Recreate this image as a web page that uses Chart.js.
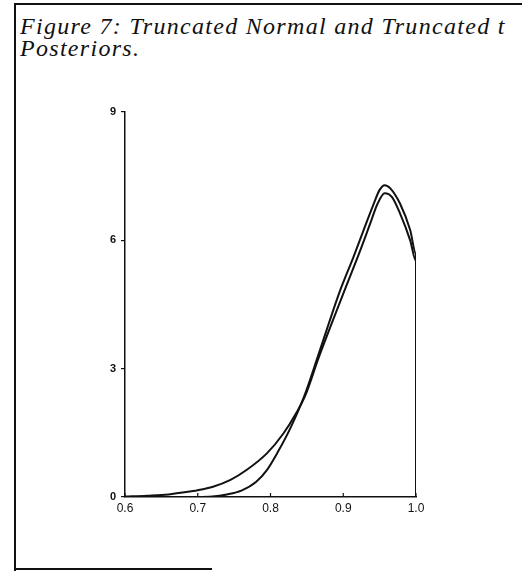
<!DOCTYPE html>
<html>
<head>
<meta charset="utf-8">
<script src="https://cdn.jsdelivr.net/npm/chart.js@4"></script>
<style>
    html, body { margin: 0; padding: 0; background: #fff; }
    #wrap { position: relative; width: 522px; height: 574px; overflow: hidden; }
    #frame { position: absolute; left: 14px; top: 3px; width: 520px; height: 566px;
             border-left: 2px solid #111; border-top: 2px solid #111; }
    #frameBottom { position: absolute; left: 14px; top: 568px; width: 198px; height: 2px; background: #111; }
    #title { position: absolute; left: 20px; top: 15px; margin: 0;
             font-family: "Liberation Serif", "Times New Roman", serif; font-style: italic;
             font-weight: normal; font-size: 24px; line-height: 22px; color: #111; letter-spacing: 1.3px; }
    canvas { position: absolute; left: 0; top: 0; }
</style>
</head>
<body>
<div id="wrap">
    <div id="frame"></div>
    <div id="frameBottom"></div>
    <h1 id="title">Figure 7: Truncated Normal and Truncated t<br>Posteriors.</h1>
    <canvas id="chart" width="522" height="574"></canvas>
</div>
<script>
// --- Data ---
const xNormal = [0.60, 0.70, 0.72, 0.74, 0.76, 0.78, 0.795, 0.81, 0.827, 0.846, 0.865, 0.880, 0.896, 0.914, 0.928, 0.942, 0.950, 0.957, 0.965, 0.978, 0.992, 1.00, 1.00];
const yNormal = [0.00, 0.00, 0.01, 0.06, 0.15, 0.35, 0.63, 1.05, 1.60, 2.34, 3.28, 4.05, 4.84, 5.61, 6.24, 6.86, 7.18, 7.29, 7.21, 6.86, 6.24, 5.68, 0];

const xT = [0.60, 0.63, 0.66, 0.676, 0.70, 0.721, 0.745, 0.767, 0.795, 0.818, 0.835, 0.848, 0.865, 0.886, 0.905, 0.921, 0.937, 0.947, 0.957, 0.967, 0.978, 0.992, 1.00, 1.00];
const yT = [0.01, 0.03, 0.06, 0.10, 0.16, 0.24, 0.40, 0.63, 1.02, 1.49, 1.95, 2.38, 3.20, 4.14, 4.97, 5.66, 6.39, 6.85, 7.10, 7.01, 6.63, 6.00, 5.52, 0];

const xTicks = [0.6, 0.7, 0.8, 0.9, 1.0];
const yTicks = [0, 3, 6, 9];

// --- Helpers ---
const toPoints = (xs, ys) => xs.map((x, i) => ({ x: x, y: ys[i] }));

// inward (upward) tick marks on the x axis
const innerTicks = {
    id: 'innerTicks',
    afterDraw(chart) {
        const { ctx, scales: { x, y } } = chart;
        ctx.save();
        ctx.strokeStyle = '#111';
        ctx.lineWidth = 1.2;
        xTicks.forEach(v => {
            const px = x.getPixelForValue(v);
            ctx.beginPath();
            ctx.moveTo(px, y.bottom);
            ctx.lineTo(px, y.bottom - 4);
            ctx.stroke();
        });
        ctx.restore();
    }
};

new Chart(document.getElementById('chart'), {
    type: 'line',
    data: {
        datasets: [
            { label: 'Truncated Normal', data: toPoints(xNormal, yNormal), borderColor: '#111', borderWidth: 2, pointRadius: 0, cubicInterpolationMode: 'monotone', fill: false },
            { label: 'Truncated t', data: toPoints(xT, yT), borderColor: '#111', borderWidth: 2, pointRadius: 0, cubicInterpolationMode: 'monotone', fill: false }
        ]
    },
    options: {
        responsive: false,
        animation: false,
        layout: { padding: { left: 95, top: 112, right: 106, bottom: 37 } },
        plugins: { legend: { display: false }, tooltip: { enabled: false } },
        scales: {
            x: {
                type: 'linear',
                min: 0.6, max: 1.0,
                afterFit: s => { s.height = 40; },
                afterBuildTicks: s => { s.ticks = xTicks.map(v => ({ value: v })); },
                border: { color: '#111', width: 1.5 },
                grid: { display: false, drawTicks: false, tickLength: 0 },
                ticks: { color: '#111', padding: 4, font: { family: 'Liberation Sans', size: 12 }, callback: v => v.toFixed(1) }
            },
            y: {
                min: 0, max: 9,
                afterFit: s => { s.width = 30; },
                afterBuildTicks: s => { s.ticks = yTicks.map(v => ({ value: v })); },
                border: { color: '#111', width: 1.5 },
                grid: { drawOnChartArea: false, tickLength: 4, color: '#111', lineWidth: 1.2 },
                ticks: { color: '#111', padding: 5, font: { family: 'Liberation Sans', size: 11, weight: 'bold' } }
            }
        }
    },
    plugins: [innerTicks]
});
</script>
</body>
</html>
